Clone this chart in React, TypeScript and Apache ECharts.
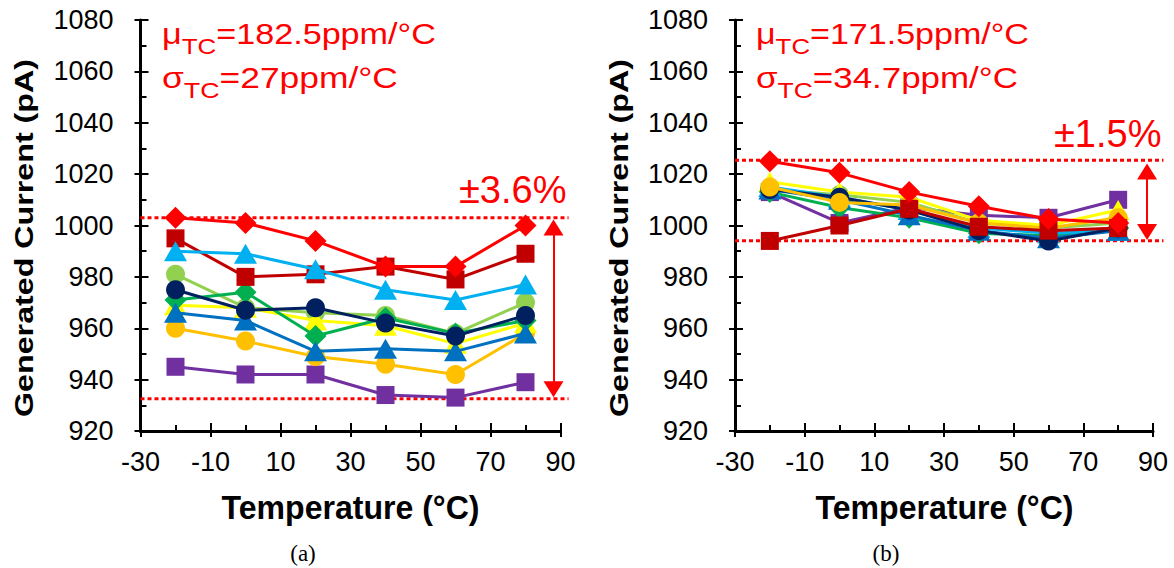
import React, { useEffect, useRef } from 'react';
import * as echarts from 'echarts';

// ---------- data ----------
const temps = [-20, 0, 20, 40, 60, 80];
const xTicks = [-30, 90, 20]; // min, max, interval
const yTicks = [920, 1080, 20];

// (a)
const aPurple = [945, 942, 942, 934, 933, 939];
const aGold = [960, 955, 949, 946, 942, 958];
const aLightGreen = [981, 968, 966, 965, 958, 970];
const aYellow = [969, 968, 963, 961, 954, 962];
const aGreen = [971, 974, 957, 964, 958, 963];
const aDarkRed = [995, 980, 981, 984, 979, 989];
const aLightBlue = [990, 989, 983, 975, 971, 977];
const aBlue = [966, 963, 951, 952, 951, 958];
const aNavy = [975, 967, 968, 962, 957, 965];
const aRed = [1003, 1001, 994, 984, 984, 1000];

// (b)
const bPurple = [1013, 1001, 1007, 1004, 1003, 1010];
const bGold = [1015, 1009, 1008, 1001, 999, 1003];
const bLightGreen = [1014, 1012, 1009, 1001, 999, 1001];
const bYellow = [1017, 1013, 1011, 1002, 1000, 1006];
const bGreen = [1013, 1007, 1003, 997, 996, 999];
const bDarkRed = [994, 1000, 1006.5, 999.5, 998, 999];
const bLightBlue = [1015, 1011, 1006, 999, 997, 998];
const bBlue = [1014, 1010, 1004, 998, 995, 998];
const bNavy = [1014, 1011, 1006, 998, 994, 999];
const bRed = [1025, 1020.5, 1013, 1007.5, 1002.5, 1001];

// spread bands (dotted lines) and arrows (arrow shaft ends, heads centred there)
const aBand = [932.6, 1003];
const bBand = [994.1, 1025.4];
const aArrow = [936.3, 999.2];
const bArrow = [997.5, 1021];
const arrowX = [88, 88.3];
const bandEndX = [92.3, 93];

const aStats = ['182.5', '27'];
const bStats = ['171.5', '34.7'];
const spreadLabels = ['±3.6%', '±1.5%'];

const xTitle = 'Temperature (°C)';
const yTitle = 'Generated Current (pA)';
const panelLabels = ['(a)', '(b)'];

// za / zb: drawing order in panel (a) / (b)
const seriesDefs = [
  { color: '#7030A0', symbol: 'rect', a: aPurple, b: bPurple, za: 0, zb: 0 },
  { color: '#FFC000', symbol: 'circle', a: aGold, b: bGold, za: 1, zb: 8 },
  { color: '#92D050', symbol: 'circle', a: aLightGreen, b: bLightGreen, za: 2, zb: 1 },
  { color: '#FFFF00', symbol: 'triangle', a: aYellow, b: bYellow, za: 3, zb: 2 },
  { color: '#00B050', symbol: 'diamond', a: aGreen, b: bGreen, za: 4, zb: 3 },
  { color: '#C00000', symbol: 'rect', a: aDarkRed, b: bDarkRed, za: 5, zb: 9 },
  { color: '#00B0F0', symbol: 'triangle', a: aLightBlue, b: bLightBlue, za: 6, zb: 4 },
  { color: '#0070C0', symbol: 'triangle', a: aBlue, b: bBlue, za: 7, zb: 5 },
  { color: '#002060', symbol: 'circle', a: aNavy, b: bNavy, za: 8, zb: 6 },
  { color: '#FF0000', symbol: 'diamond', a: aRed, b: bRed, za: 9, zb: 10 },
];

const FF = "'Liberation Sans', Arial, Helvetica, sans-serif";
const SERIF = "'Liberation Serif', 'Times New Roman', serif";
const RED = '#FF0000';

const symbolSizes: Record<string, any> = {
  rect: 18,
  circle: 19,
  diamond: [22, 22],
  triangle: [23, 20],
};

let measureCtx: CanvasRenderingContext2D | null = null;
function tw(text: string, font: string) {
  if (!measureCtx) measureCtx = document.createElement('canvas').getContext('2d');
  measureCtx!.font = font;
  return measureCtx!.measureText(text).width;
}

function statLine(x: number, baseY: number, head: string, tail: string, targetW: number) {
  const ms = 29, ss = 22;
  const mf = `${ms}px ${FF}`, sf = `${ss}px ${FF}`;
  const w1 = tw(head, mf), w2 = tw('TC', sf), w3 = tw(tail, mf);
  const sx = targetW / (w1 + w2 + w3);
  const c = 0.3465;
  return {
    type: 'group', x, y: baseY, scaleX: sx,
    children: [
      { type: 'text', x: 0, y: -c * ms, style: { text: head, font: mf, fill: RED, verticalAlign: 'middle', align: 'left' } },
      { type: 'text', x: w1, y: 10 - c * ss, style: { text: 'TC', font: sf, fill: RED, verticalAlign: 'middle', align: 'left' } },
      { type: 'text', x: w1 + w2, y: -c * ms, style: { text: tail, font: mf, fill: RED, verticalAlign: 'middle', align: 'left' } },
    ],
  };
}

function scaledText(x: number, y: number, text: string, font: string, targetW: number, rotation = 0, fill = '#000') {
  const sx = targetW / tw(text, font);
  return {
    type: 'text', x, y, rotation, scaleX: sx,
    style: { text, font, fill, align: 'center', verticalAlign: 'middle' },
  };
}

function makeAxes(g: number) {
  const common = {
    type: 'value', gridIndex: g, min: xTicks[0], max: xTicks[1], interval: xTicks[2],
    splitLine: { show: false }, minorSplitLine: { show: false },
  };
  const ycommon = {
    type: 'value', gridIndex: g, min: yTicks[0], max: yTicks[1], interval: yTicks[2],
    splitLine: { show: false }, minorSplitLine: { show: false },
  };
  const tickStyle = { color: '#000', width: 2 };
  const fmt = (v: number) => String(v);
  const x = [
    {
      ...common, position: 'bottom',
      axisLine: { show: true, onZero: false, lineStyle: { color: '#000', width: 3 } },
      axisTick: { show: true, inside: true, length: 8, lineStyle: tickStyle },
      minorTick: { show: true, splitNumber: 2, length: 6, lineStyle: tickStyle },
      axisLabel: { show: true, fontSize: 27, color: '#000', fontFamily: FF, margin: 17, formatter: fmt },
    },
    {
      ...common, position: 'bottom',
      axisLine: { show: false, onZero: false },
      axisTick: { show: true, inside: false, length: 6, lineStyle: tickStyle },
      minorTick: { show: false },
      axisLabel: { show: false },
    },
  ];
  const y = [
    {
      ...ycommon, position: 'left',
      axisLine: { show: true, onZero: false, lineStyle: { color: '#000', width: 3 } },
      axisTick: { show: true, inside: true, length: 8, lineStyle: tickStyle },
      minorTick: { show: true, splitNumber: 2, length: 6, lineStyle: tickStyle },
      axisLabel: { show: true, fontSize: 27, color: '#000', fontFamily: FF, margin: 27, formatter: fmt },
    },
    {
      ...ycommon, position: 'left',
      axisLine: { show: false, onZero: false },
      axisTick: { show: true, inside: false, length: 6, lineStyle: tickStyle },
      minorTick: { show: false },
      axisLabel: { show: false },
    },
  ];
  return { x, y };
}

function baseGraphic(): any[] {
  return [
    statLine(162, 44, 'μ', '=' + aStats[0] + 'ppm/°C', 274),
    statLine(162, 88, 'σ', '=' + aStats[1] + 'ppm/°C', 236),
    statLine(756, 44, 'μ', '=' + bStats[0] + 'ppm/°C', 273),
    statLine(756, 88, 'σ', '=' + bStats[1] + 'ppm/°C', 262),
    { type: 'text', x: 459, y: 189.5, style: { text: spreadLabels[0], font: `38px ${FF}`, fill: RED, align: 'left', verticalAlign: 'middle' } },
    { type: 'text', x: 1054, y: 134, style: { text: spreadLabels[1], font: `38px ${FF}`, fill: RED, align: 'left', verticalAlign: 'middle' } },
    scaledText(350.5, 508, xTitle, `bold 33px ${FF}`, 258),
    scaledText(944.5, 508, xTitle, `bold 33px ${FF}`, 258),
    scaledText(24, 238, yTitle, `bold 26px ${FF}`, 358, Math.PI / 2),
    scaledText(619, 238, yTitle, `bold 26px ${FF}`, 358, Math.PI / 2),
    { type: 'text', x: 303, y: 553, style: { text: panelLabels[0], font: `23px ${SERIF}`, fill: '#000', align: 'center', verticalAlign: 'middle' } },
    { type: 'text', x: 886, y: 553, style: { text: panelLabels[1], font: `23px ${SERIF}`, fill: '#000', align: 'center', verticalAlign: 'middle' } },
  ];
}

function buildOption() {
  const grids = [
    { left: 140.5, top: 20, width: 420, height: 411 },
    { left: 735, top: 20, width: 418, height: 411 },
  ];
  const ax0 = makeAxes(0), ax1 = makeAxes(1);
  const series: any[] = [];
  const arrows = [aArrow, bArrow];
  [0, 1].forEach((g) => {
    seriesDefs.forEach((d) => {
      const vals = g === 0 ? d.a : d.b;
      const order = g === 0 ? d.za : d.zb;
      series.push({
        type: 'line', xAxisIndex: g * 2, yAxisIndex: g * 2,
        data: temps.map((t, k) => [t, vals[k]]),
        symbol: d.symbol, symbolSize: symbolSizes[d.symbol],
        itemStyle: { color: d.color, opacity: 1 },
        lineStyle: { color: d.color, width: 3 },
        z: 3 + order * 0.01, clip: false, silent: true,
      });
    });
    const arr = arrows[g];
    series.push({
      type: 'line', xAxisIndex: g * 2, yAxisIndex: g * 2, data: [], clip: false, silent: true,
      z: 4,
      markLine: {
        silent: true, animation: false, symbol: 'none', label: { show: false },
        data: [
          [
            { coord: [arrowX[g], arr[1]], symbol: 'triangle', symbolSize: [20, 16], lineStyle: { color: RED, width: 2, type: 'solid' } },
            { coord: [arrowX[g], arr[0]], symbol: 'triangle', symbolSize: [20, 16] },
          ],
        ],
      },
    });
  });

  return {
    animation: false,
    backgroundColor: '#FFFFFF',
    grid: grids,
    xAxis: [...ax0.x, ...ax1.x],
    yAxis: [...ax0.y, ...ax1.y],
    series,
    graphic: baseGraphic(),
  };
}

export default function App() {
  const ref = useRef<HTMLDivElement>(null);
  useEffect(() => {
    document.body.style.margin = '0';
    const chart = echarts.init(ref.current!, null, { renderer: 'svg' });
    chart.setOption(buildOption() as any);
    // dotted spread lines, placed through the axes' own scales
    const bands = [aBand, bBand];
    const lines: any[] = [];
    [0, 1].forEach((g) => {
      bands[g].forEach((v) => {
        const p1 = chart.convertToPixel({ gridIndex: g } as any, [xTicks[0], v]) as number[];
        const p2 = chart.convertToPixel({ gridIndex: g } as any, [bandEndX[g], v]) as number[];
        lines.push({
          type: 'line', z: 1, silent: true,
          shape: { x1: p1[0], y1: p1[1], x2: p2[0], y2: p2[1] },
          style: { stroke: RED, lineWidth: 3, lineDash: [4, 3] },
        });
      });
    });
    chart.setOption({ graphic: [...baseGraphic(), ...lines] } as any);
    return () => chart.dispose();
  }, []);
  return <div ref={ref} style={{ position: 'fixed', left: 0, top: 0, width: 1174, height: 568 }} />;
}
